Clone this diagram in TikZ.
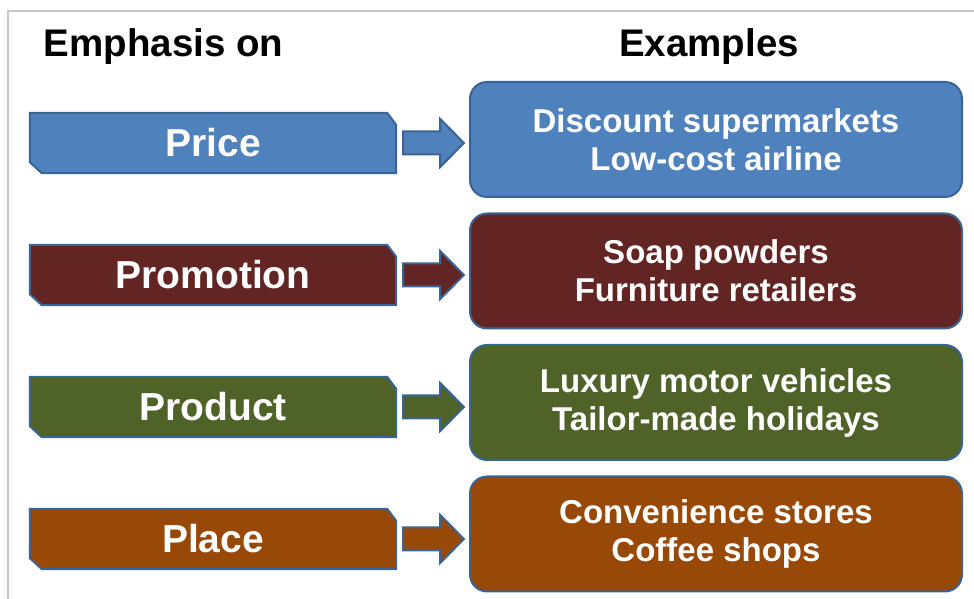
\documentclass[tikz,border=0pt]{standalone}
\usepackage{fontspec}
\setmainfont{Liberation Sans}
\usetikzlibrary{calc,backgrounds}
\definecolor{cblue}{HTML}{4F81BD}
\definecolor{cmaroon}{HTML}{632523}
\definecolor{colive}{HTML}{4F6228}
\definecolor{cbrown}{HTML}{984807}
\definecolor{edgeblue}{HTML}{3A6494}
\definecolor{framegray}{HTML}{C8C8C8}
\begin{document}
\begin{tikzpicture}[x=1pt,y=1pt,
  header/.style={anchor=base, inner sep=0, font=\fontsize{38.5}{40}\selectfont\bfseries},
  leftbox/.style={rectangle, minimum width=366pt, minimum height=60pt, inner sep=0pt,
    text=white, font=\fontsize{39}{40}\selectfont\bfseries},
  leftshape/.style={draw=edgeblue, line width=2pt, fill=#1, line join=miter},
  rightbox/.style={rectangle, rounded corners=17pt, minimum width=492pt, minimum height=115pt,
    inner sep=0pt, draw=edgeblue, line width=2pt, fill=#1, text=white, align=center,
    font=\fontsize{33}{38}\selectfont\bfseries},
  blockarrow/.style={draw=edgeblue, line width=2pt, fill=#1, line join=miter}
]
\useasboundingbox (0,0) rectangle (974,599);
\draw[framegray, line width=2.5pt] (8,0) -- (8,588) -- (974,588);

\node[header] (h1) at (163.5,542) {Emphasis on};
\node[header] (h2) at (709,542) {Examples};

\node[leftbox] (L1) at (213,456) {Price};
\node[leftbox] (L2) at (213,324) {Promotion};
\node[leftbox] (L3) at (213,192) {Product};
\node[leftbox] (L4) at (213,60) {Place};

\node[rightbox=cblue] (R1) at (716,459.5) {Discount supermarkets\\Low-cost airline};
\node[rightbox=cmaroon] (R2) at (716,328) {Soap powders\\Furniture retailers};
\node[rightbox=colive] (R3) at (716,196.5) {Luxury motor vehicles\\Tailor-made holidays};
\node[rightbox=cbrown] (R4) at (716,65) {Convenience stores\\Coffee shops};

\begin{scope}[on background layer]
\foreach \i/\c in {1/cblue,2/cmaroon,3/colive,4/cbrown}{
  \draw[leftshape=\c] (L\i.north west) -- ($(L\i.north east)+(-9,0)$)
    -- ($(L\i.north east)+(0,-12)$) -- (L\i.south east)
    -- ($(L\i.south west)+(12,0)$) -- ($(L\i.south west)+(0,11)$) -- cycle;
}
\end{scope}

\foreach \i/\c in {1/cblue,2/cmaroon,3/colive,4/cbrown}{
  \draw[blockarrow=\c] let \p1=(L\i.east), \p2=(R\i.west) in
    (\x1+7,\y1+11.5) -- (\x1+44,\y1+11.5) -- (\x1+44,\y1+24) -- (\x2-5,\y1)
    -- (\x1+44,\y1-24) -- (\x1+44,\y1-11.5) -- (\x1+7,\y1-11.5) -- cycle;
}
\end{tikzpicture}
\end{document}
